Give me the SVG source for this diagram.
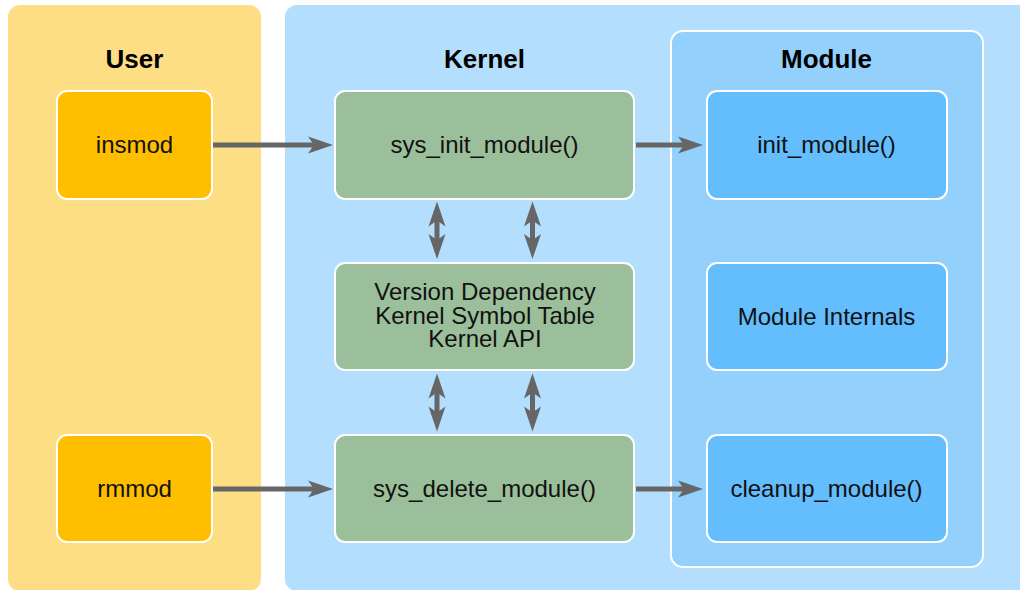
<svg xmlns="http://www.w3.org/2000/svg" width="1020" height="590" viewBox="0 0 1020 590">
<defs>
<style>
.title{font-family:"Liberation Sans",Arial,sans-serif;font-size:26px;font-weight:bold;fill:#000;text-anchor:middle}
.lbl{font-family:"Liberation Sans",Arial,sans-serif;font-size:24px;fill:#111;text-anchor:middle}
.user{fill:#FFBF00;stroke:#fff;stroke-width:2}
.kern{fill:#9BBF9A;stroke:#fff;stroke-width:2}
.mod{fill:#64BDFD;stroke:#fff;stroke-width:2}
.conn{stroke:#666;stroke-width:5;fill:none}
</style>
<marker id="ah" markerUnits="userSpaceOnUse" markerWidth="30" markerHeight="20" refX="15" refY="0" orient="auto-start-reverse" overflow="visible">
<path d="M0,-8.5 L25,0 L0,8.5 L6,0 Z" fill="#666"/>
</marker>
</defs>
<rect width="1020" height="590" fill="#fff"/>
<g id="panel-user">
<rect x="8" y="5" width="253" height="586" rx="12" fill="#FDDE85"/>
<text class="title" x="134.5" y="68">User</text>
</g>
<g id="panel-kernel">
<rect x="285" y="5" width="760" height="586" rx="12" fill="#B3DEFD"/>
<text class="title" x="484.5" y="68">Kernel</text>
</g>
<g id="panel-module">
<rect x="671" y="31" width="312" height="536" rx="12" fill="#93D1FC" stroke="#fff" stroke-width="2"/>
<text class="title" x="826.5" y="68">Module</text>
</g>
<g id="connectors">
<line class="conn" x1="213" y1="145" x2="323" y2="145" marker-end="url(#ah)"/>
<line class="conn" x1="636" y1="145" x2="693" y2="145" marker-end="url(#ah)"/>
<line class="conn" x1="213" y1="489" x2="323" y2="489" marker-end="url(#ah)"/>
<line class="conn" x1="636" y1="489" x2="693" y2="489" marker-end="url(#ah)"/>
<line class="conn" x1="437" y1="211.5" x2="437" y2="249" marker-start="url(#ah)" marker-end="url(#ah)"/>
<line class="conn" x1="532.5" y1="211.5" x2="532.5" y2="249" marker-start="url(#ah)" marker-end="url(#ah)"/>
<line class="conn" x1="437" y1="383.5" x2="437" y2="421.5" marker-start="url(#ah)" marker-end="url(#ah)"/>
<line class="conn" x1="532.5" y1="383.5" x2="532.5" y2="421.5" marker-start="url(#ah)" marker-end="url(#ah)"/>
</g>
<g id="insmod">
<rect class="user" x="57" y="91" width="155" height="108" rx="10"/>
<text class="lbl" x="134.5" y="153">insmod</text>
</g>
<g id="rmmod">
<rect class="user" x="57" y="435" width="155" height="107" rx="10"/>
<text class="lbl" x="134.5" y="497">rmmod</text>
</g>
<g id="sys_init_module">
<rect class="kern" x="335" y="91" width="299" height="108" rx="10"/>
<text class="lbl" x="484.5" y="153">sys_init_module()</text>
</g>
<g id="kernel_core">
<rect class="kern" x="335" y="263" width="299" height="107" rx="10"/>
<text class="lbl" x="485" y="300">Version Dependency</text>
<text class="lbl" x="485" y="323.5">Kernel Symbol Table</text>
<text class="lbl" x="485" y="347">Kernel API</text>
</g>
<g id="sys_delete_module">
<rect class="kern" x="335" y="435" width="299" height="107" rx="10"/>
<text class="lbl" x="484.5" y="497">sys_delete_module()</text>
</g>
<g id="init_module">
<rect class="mod" x="707" y="91" width="240" height="108" rx="10"/>
<text class="lbl" x="826.5" y="153">init_module()</text>
</g>
<g id="module_internals">
<rect class="mod" x="707" y="263" width="240" height="107" rx="10"/>
<text class="lbl" x="826.5" y="325">Module Internals</text>
</g>
<g id="cleanup_module">
<rect class="mod" x="707" y="435" width="240" height="107" rx="10"/>
<text class="lbl" x="826.5" y="497">cleanup_module()</text>
</g>
</svg>
